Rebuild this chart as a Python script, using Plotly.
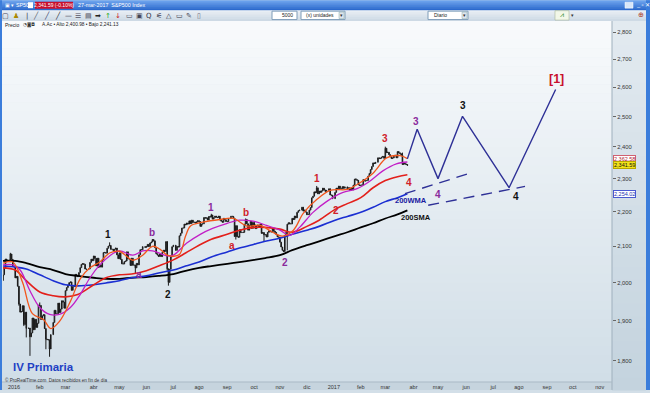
import math
import pandas as pd
import plotly.graph_objects as go

# ---------------- DATA (read / estimated from the reference) ----------------
holidays = ["2015-12-25", "2016-01-01", "2016-01-18", "2016-02-15", "2016-03-25",
            "2016-05-30", "2016-07-04", "2016-09-05", "2016-11-24", "2016-12-26",
            "2017-01-02", "2017-01-16", "2017-02-20"]

first_open = 2005.55
close_2015_12 = [2021.15, 2038.97, 2064.29, 2060.99, 2056.50, 2078.36, 2063.36, 2043.94]
close_2016_01 = [2012.66, 2016.71, 1990.26, 1943.09, 1922.03, 1923.67, 1938.68, 1890.28, 1921.84, 1880.33,
                 1881.33, 1859.33, 1868.99, 1906.90, 1877.08, 1903.63, 1882.95, 1893.36, 1940.24]
close_2016_02 = [1939.38, 1903.03, 1912.53, 1915.45, 1880.05, 1853.44, 1852.21, 1851.86, 1829.08, 1864.78,
                 1895.58, 1926.82, 1917.83, 1917.78, 1945.50, 1921.27, 1929.80, 1951.70, 1948.05, 1932.23]
close_2016_03 = [1978.35, 1986.45, 1993.40, 1999.99, 2001.76, 1979.26, 1989.26, 1989.57, 2022.19, 2019.64,
                 2015.93, 2027.22, 2040.59, 2049.58, 2051.60, 2049.80, 2036.71, 2035.94, 2037.05, 2055.01,
                 2063.95, 2059.74]
close_2016_04 = [2072.78, 2066.13, 2045.17, 2066.66, 2041.91, 2047.60, 2041.99, 2061.72, 2082.42, 2082.78,
                 2080.73, 2094.34, 2100.80, 2102.40, 2091.48, 2091.58, 2087.79, 2091.70, 2095.15, 2075.81,
                 2065.30]
close_2016_05 = [2081.43, 2063.37, 2051.12, 2050.63, 2057.14, 2058.69, 2084.39, 2064.46, 2064.11, 2046.61,
                 2066.66, 2047.21, 2047.63, 2040.04, 2052.32, 2048.04, 2076.06, 2090.54, 2090.10, 2099.06,
                 2096.95]
close_2016_06 = [2099.33, 2105.26, 2099.13, 2109.41, 2112.13, 2119.12, 2115.48, 2096.07, 2079.06, 2075.32,
                 2071.50, 2077.99, 2071.22, 2083.25, 2088.90, 2085.45, 2113.32, 2037.41, 2000.54, 2036.09,
                 2070.77, 2098.86]
close_2016_07 = [2102.95, 2088.55, 2099.73, 2097.90, 2129.90, 2137.16, 2152.14, 2152.43, 2163.75, 2161.74,
                 2166.89, 2163.78, 2173.02, 2165.17, 2175.03, 2168.48, 2169.18, 2166.58, 2170.06, 2173.60]
close_2016_08 = [2170.84, 2157.03, 2163.79, 2164.25, 2182.87, 2180.89, 2181.74, 2175.49, 2185.79, 2184.05,
                 2190.15, 2178.15, 2182.22, 2187.02, 2183.87, 2182.64, 2186.90, 2175.44, 2172.47, 2169.04,
                 2180.38, 2176.12, 2170.95]
close_2016_09 = [2170.86, 2179.98, 2186.48, 2186.16, 2181.30, 2127.81, 2159.04, 2127.02, 2125.77, 2147.26,
                 2139.16, 2139.12, 2139.76, 2163.12, 2177.18, 2164.69, 2146.10, 2159.93, 2171.37, 2151.13,
                 2168.27]
close_2016_10 = [2161.20, 2150.49, 2159.73, 2160.77, 2153.74, 2163.66, 2136.73, 2139.18, 2132.55, 2132.98,
                 2126.50, 2139.60, 2144.29, 2141.34, 2141.16, 2151.33, 2143.16, 2139.43, 2133.04, 2126.41,
                 2126.15]
close_2016_11 = [2111.72, 2097.94, 2088.66, 2085.18, 2131.52, 2139.56, 2163.26, 2167.48, 2164.45, 2164.20,
                 2180.39, 2176.94, 2187.12, 2181.90, 2198.18, 2202.94, 2204.72, 2213.35, 2201.72, 2204.66,
                 2198.81]
close_2016_12 = [2191.08, 2191.95, 2204.71, 2212.23, 2241.35, 2246.19, 2259.53, 2256.96, 2271.72, 2253.28,
                 2262.03, 2258.07, 2262.53, 2270.76, 2265.18, 2260.96, 2263.79, 2268.88, 2249.92, 2249.26,
                 2238.83]
close_2017_01 = [2257.83, 2270.75, 2269.00, 2276.98, 2268.90, 2268.90, 2275.32, 2270.44, 2274.64, 2267.89,
                 2271.89, 2263.69, 2271.31, 2265.20, 2280.07, 2298.37, 2296.68, 2294.69, 2280.90, 2278.87]
close_2017_02 = [2279.55, 2280.85, 2297.42, 2292.56, 2293.08, 2294.67, 2307.87, 2316.10, 2328.25, 2337.58,
                 2349.25, 2347.22, 2351.16, 2365.38, 2362.82, 2363.81, 2367.34, 2369.75, 2363.64]
close_2017_03 = [2395.96, 2381.92, 2383.12, 2375.31, 2368.39, 2362.98, 2364.87, 2372.60, 2373.47, 2365.45,
                 2385.26, 2381.38, 2378.25, 2373.47, 2344.02, 2348.45, 2345.96, 2343.98, 2341.59]

wick_low = {"2016-01-07": 1938.8, "2016-01-13": 1886.4, "2016-01-15": 1857.8, "2016-01-20": 1812.3,
            "2016-02-08": 1828.5, "2016-02-11": 1810.1, "2016-03-08": 1979.3, "2016-04-07": 2039.7,
            "2016-05-19": 2025.9, "2016-06-24": 2032.6, "2016-06-27": 1991.7, "2016-09-09": 2127.8,
            "2016-09-12": 2119.1, "2016-10-13": 2114.7, "2016-11-04": 2083.8, "2016-11-09": 2088.6}
wick_high = {"2015-12-29": 2081.6, "2016-02-01": 1947.2, "2016-04-20": 2111.1, "2016-06-08": 2120.6,
             "2016-08-15": 2193.8, "2016-09-22": 2180.0, "2016-11-23": 2204.8, "2016-12-13": 2277.5,
             "2017-01-26": 2301.0, "2017-03-01": 2401.0, "2017-03-21": 2381.9}

# moving averages
slow_dates = ["2015-12-21", "2016-01-04", "2016-01-15", "2016-02-01", "2016-02-16", "2016-03-01",
              "2016-03-15", "2016-04-01", "2016-04-15", "2016-05-02", "2016-05-16", "2016-06-01",
              "2016-06-15", "2016-07-01", "2016-07-15", "2016-08-01", "2016-08-15", "2016-09-01",
              "2016-09-15", "2016-10-03", "2016-10-14", "2016-11-01", "2016-11-15", "2016-12-01",
              "2016-12-15", "2017-01-03", "2017-01-17", "2017-02-01", "2017-02-15", "2017-03-01",
              "2017-03-15", "2017-03-27"]
sma200 = [2059, 2059, 2053, 2042, 2034, 2023, 2018, 2013, 2010, 2010, 2013, 2015, 2018, 2023, 2032, 2040,
          2045, 2051, 2056, 2062, 2067, 2075, 2089, 2103, 2114, 2129, 2140, 2154, 2166, 2180, 2192, 2204]
wma200 = [2045, 2042, 2037, 2021, 2005, 1994, 1991, 1994, 1999, 2005, 2013, 2018, 2026, 2034, 2045, 2056,
          2070, 2084, 2095, 2106, 2114, 2123, 2134, 2146, 2157, 2175, 2186, 2198, 2213, 2230, 2242, 2254.02]
sma50 = [2040, 2034, 2005, 1975, 1965, 1962, 1968, 1994, 2013, 2021, 2023, 2032, 2045, 2062, 2081, 2103,
         2120, 2134, 2146, 2154, 2154, 2149, 2140, 2157, 2175, 2207, 2224, 2242, 2272, 2294, 2306, 2312]

fast_dates = ["2015-12-21", "2015-12-31", "2016-01-12", "2016-01-22", "2016-02-04", "2016-02-12",
              "2016-02-23", "2016-03-07", "2016-03-17", "2016-03-29", "2016-04-08", "2016-04-20",
              "2016-05-02", "2016-05-17", "2016-05-27", "2016-06-08", "2016-06-16", "2016-06-24",
              "2016-07-01", "2016-07-08", "2016-07-15", "2016-07-21", "2016-08-04", "2016-08-24",
              "2016-09-08", "2016-09-23", "2016-10-10", "2016-10-24", "2016-11-03", "2016-11-16",
              "2016-11-28", "2016-12-13", "2016-12-28", "2017-01-17", "2017-01-27", "2017-02-15",
              "2017-03-02", "2017-03-17", "2017-03-27"]
ma10 = [2053, 2056, 2000, 1918, 1903, 1880, 1898, 1950, 2010, 2040, 2056, 2081, 2086, 2061, 2075, 2100,
        2092, 2075, 2072, 2077, 2129, 2158, 2169, 2177, 2180, 2158, 2160, 2140, 2129, 2146, 2195, 2236,
        2264, 2267, 2282, 2317, 2365, 2372, 2362.58]

mid_dates = ["2015-12-21", "2015-12-31", "2016-01-08", "2016-01-20", "2016-02-01", "2016-02-11",
             "2016-02-23", "2016-03-07", "2016-03-17", "2016-03-29", "2016-04-08", "2016-04-20",
             "2016-05-02", "2016-05-17", "2016-05-27", "2016-06-08", "2016-06-24", "2016-07-01",
             "2016-07-18", "2016-08-02", "2016-08-16", "2016-09-01", "2016-09-15", "2016-09-30",
             "2016-10-17", "2016-11-01", "2016-11-11", "2016-11-23", "2016-12-08", "2016-12-23",
             "2017-01-11", "2017-01-27", "2017-02-10", "2017-02-27", "2017-03-14", "2017-03-27"]
ma20 = [2048, 2048, 2034, 1978, 1934, 1916, 1916, 1934, 1968, 2013, 2048, 2073, 2087, 2075, 2087, 2087,
        2073, 2075, 2109, 2134, 2151, 2166, 2175, 2172, 2160, 2146, 2131, 2154, 2198, 2230, 2257, 2269,
        2291, 2324, 2346, 2352]

# Elliott-wave projection
proj_dates = ["2017-03-27", "2017-04-06", "2017-05-01", "2017-05-29", "2017-07-20", "2017-09-12"]
proj_vals = [2362, 2458, 2300, 2501, 2272, 2593]
chan1_dates = ["2017-03-23", "2017-06-07"]
chan1_vals = [2254, 2318]
chan2_dates = ["2017-04-19", "2017-08-08"]
chan2_vals = [2219, 2276]

label_text = ["IV Primaria", "1", "2", "a", "b", "1", "a", "b", "2", "1", "2", "3", "4",
              "3", "4", "3", "4", "[1]", "200WMA", "200SMA"]
label_date = ["2016-02-04", "2016-04-19", "2016-06-27", "2016-05-24", "2016-06-08", "2016-08-15",
              "2016-09-07", "2016-09-22", "2016-11-07", "2016-12-13", "2017-01-04", "2017-03-01",
              "2017-03-28", "2017-04-05", "2017-05-01", "2017-05-29", "2017-07-28", "2017-09-13",
              "2017-03-30", "2017-04-05"]
label_price = [1785, 2134, 1968, 2023, 2140, 2213, 2103, 2198, 2056, 2300, 2204, 2426, 2288,
               2485, 2251, 2538, 2245, 2628, 2233, 2183]
label_kind = ["title", "black", "black", "purple", "purple", "purple", "red", "red", "purple", "red",
              "red", "red", "red", "purple", "purple", "black", "black", "big_red", "wma", "sma"]

tick_dates = ["2016-01-01", "2016-02-01", "2016-03-01", "2016-04-01", "2016-05-02", "2016-06-01",
              "2016-07-01", "2016-08-01", "2016-09-01", "2016-10-03", "2016-11-01", "2016-12-01",
              "2017-01-02", "2017-02-01", "2017-03-01", "2017-04-03", "2017-05-01", "2017-06-01",
              "2017-07-03", "2017-08-01", "2017-09-01", "2017-10-02", "2017-11-01"]
tick_labels = ["2016", "feb", "mar", "abr", "may", "jun", "jul", "ago", "sep", "oct", "nov", "dic",
               "2017", "feb", "mar", "abr", "may", "jun", "jul", "ago", "sep", "oct", "nov"]
price_ticks = [1800, 1900, 2000, 2100, 2200, 2300, 2400, 2500, 2600, 2700, 2800]
axis_marks = [(2362.58, "mark_red"), (2341.59, "mark_yellow"), (2254.02, "mark_blue")]
y_low, y_high = 1749.7, 2816.4
x_start, x_end = "2015-12-21", "2017-11-15"

# ---------------- BUILD CANDLES ----------------
months = [("2015-12-21", "2015-12-31", close_2015_12), ("2016-01-01", "2016-01-31", close_2016_01),
          ("2016-02-01", "2016-02-29", close_2016_02), ("2016-03-01", "2016-03-31", close_2016_03),
          ("2016-04-01", "2016-04-30", close_2016_04), ("2016-05-01", "2016-05-31", close_2016_05),
          ("2016-06-01", "2016-06-30", close_2016_06), ("2016-07-01", "2016-07-31", close_2016_07),
          ("2016-08-01", "2016-08-31", close_2016_08), ("2016-09-01", "2016-09-30", close_2016_09),
          ("2016-10-01", "2016-10-31", close_2016_10), ("2016-11-01", "2016-11-30", close_2016_11),
          ("2016-12-01", "2016-12-31", close_2016_12), ("2017-01-01", "2017-01-31", close_2017_01),
          ("2017-02-01", "2017-02-28", close_2017_02), ("2017-03-01", "2017-03-27", close_2017_03)]
dates, closes = [], []
for s, e, vals in months:
    days = [d.strftime("%Y-%m-%d") for d in pd.bdate_range(s, e)]
    days = [d for d in days if d not in holidays]
    n = min(len(days), len(vals))
    dates += days[:n]
    closes += vals[:n]
opens = [first_open] + closes[:-1]
highs = [max(o, c, wick_high.get(d, 0)) for d, o, c in zip(dates, opens, closes)]
lows = [min(o, c, wick_low.get(d, 1e9)) for d, o, c in zip(dates, opens, closes)]

# ---------------- FIGURE ----------------
W, H = 650, 393
L, R, T, B = 3, 38, 28, 8
PW, PH = W - L - R, H - T - B
FONT = "Liberation Sans, Arial, sans-serif"


def px(xp):
    return (xp - L) / PW


def py(yp):
    return (H - B - yp) / PH


shapes = []


def rect(x0, y0, x1, y1, color, line=None, layer="below"):
    shapes.append(dict(type="rect", xref="paper", yref="paper", x0=px(x0), x1=px(x1),
                       y0=py(y1), y1=py(y0), fillcolor=color,
                       line=line if line else dict(width=0), layer=layer))


def gradient(x0, y0, x1, y1, c0, c1, steps):
    h = (y1 - y0) / steps
    for i in range(steps):
        t = i / (steps - 1)
        c = tuple(int(round(a + (b - a) * t)) for a, b in zip(c0, c1))
        rect(x0, y0 + i * h, x1, y0 + (i + 1) * h + 0.6, "rgb(%d,%d,%d)" % c)


# chrome
gradient(0, 0, 650, 10, (104, 160, 236), (44, 106, 206), 5)          # title bar
gradient(0, 10, 650, 21, (232, 238, 244), (206, 218, 229), 5)         # toolbar
gradient(2, 21, 612, 385, (248, 250, 252), (209, 222, 231), 40)      # chart area
gradient(612, 21, 646, 393, (226, 234, 240), (196, 211, 222), 30)    # price panel
rect(2, 385, 612, 393, "#c6d4de")                                       # date band
shapes.append(dict(type="line", xref="paper", yref="paper", x0=px(612), x1=px(612),
                   y0=py(393), y1=py(21), line=dict(color="#9fb0bd", width=1), layer="below"))
shapes.append(dict(type="line", xref="paper", yref="paper", x0=px(2), x1=px(612),
                   y0=py(385), y1=py(385), line=dict(color="#a9b9c5", width=1), layer="below"))
rect(0, 0, 2, 393, "#3b7ddb")
rect(646, 0, 650, 393, "#3b7ddb")
rect(35, 1.5, 73, 8.5, "#c8102e")
rect(272, 11, 297, 19.5, "#ffffff", dict(color="#7f9db9", width=1))
rect(301, 11, 345, 19.5, "#ffffff", dict(color="#7f9db9", width=1))
rect(428, 11, 468, 19.5, "#ffffff", dict(color="#7f9db9", width=1))
rect(339, 12, 344, 18.5, "#dfe6ee", dict(color="#8aa", width=0.5))
rect(462, 12, 467, 18.5, "#dfe6ee", dict(color="#8aa", width=0.5))
rect(555, 10.5, 569, 20, "#f2f7e8", dict(color="#99aa88", width=0.5))
rect(625, 2, 633, 8, "#d8e6f8", dict(color="#ffffff", width=0.5))
rect(28, 2, 33, 8, "#ffffff")

fig = go.Figure()
fig.add_trace(go.Candlestick(
    x=dates, open=opens, high=highs, low=lows, close=closes,
    increasing=dict(line=dict(color="#1a1a1a", width=1), fillcolor="#ffffff"),
    decreasing=dict(line=dict(color="#1a1a1a", width=1), fillcolor="#1a1a1a"),
    whiskerwidth=0, hoverinfo="skip", showlegend=False))

line_specs = [(slow_dates, sma200, "#000000", 1.8), (slow_dates, wma200, "#1b2fd2", 1.6),
              (slow_dates, sma50, "#e3201b", 1.6), (mid_dates, ma20, "#c21fc6", 1.3),
              (fast_dates, ma10, "#f2561d", 1.3)]
for xs, ys, col, wd in line_specs:
    fig.add_trace(go.Scatter(x=xs, y=ys, mode="lines", line=dict(color=col, width=wd, shape="spline",
                                                                  smoothing=1.0),
                             hoverinfo="skip", showlegend=False))

fig.add_trace(go.Scatter(x=proj_dates, y=proj_vals, mode="lines",
                         line=dict(color="#2e3096", width=1.4), hoverinfo="skip", showlegend=False))
for xs, ys in [(chan1_dates, chan1_vals), (chan2_dates, chan2_vals)]:
    fig.add_trace(go.Scatter(x=xs, y=ys, mode="lines",
                             line=dict(color="#2e3096", width=1.4, dash="11px,7px"),
                             hoverinfo="skip", showlegend=False))

styles = {"title": ("#1f3fc4", 11.5), "black": ("#111111", 10), "purple": ("#8a2a9c", 10),
          "red": ("#d0212a", 10), "big_red": ("#c8102e", 12.5), "wma": ("#1a1aa0", 7.5),
          "sma": ("#111111", 7.5)}
annotations = []
for t, d, p, k in zip(label_text, label_date, label_price, label_kind):
    col, sz = styles[k]
    annotations.append(dict(x=d, y=math.log10(p), xref="x", yref="y", text="<b>%s</b>" % t,
                            showarrow=False, font=dict(family=FONT, size=sz, color=col),
                            xanchor="center", yanchor="middle"))

mark_styles = {"mark_red": ("#ffffff", "#d06070", "#b02030"),
               "mark_yellow": ("#f2e21a", "#b8a800", "#111111"),
               "mark_blue": ("#ffffff", "#4a5ad0", "#2030b0")}
for p, k in axis_marks:
    bg, bd, fc = mark_styles[k]
    annotations.append(dict(x=1.0, y=math.log10(p), xref="paper", yref="y", text=f"{p:,.2f}",
                            showarrow=False, xanchor="left", yanchor="middle", xshift=1,
                            bgcolor=bg, bordercolor=bd, borderwidth=1, borderpad=0,
                            font=dict(family=FONT, size=5.5, color=fc)))


def text(xp, yp, s, size=5.5, color="#222222", anchor="left", bold=False, family=FONT):
    annotations.append(dict(x=px(xp), y=py(yp), xref="paper", yref="paper",
                            text=("<b>%s</b>" % s) if bold else s, showarrow=False,
                            xanchor=anchor, yanchor="middle",
                            font=dict(family=family, size=size, color=color)))


# header texts
text(3, 5, "▣ ▾ SP500", 5.3, "#ffffff")
text(54, 5, "2,341.59 (-0.10%)", 5.0, "#ffffff", "center")
text(76, 5, "27-mar-2017  S&P500 Index", 5.3, "#ffffff")
text(634, 5, "_ ▫ ✕", 5.5, "#ffffff")
icons = [(5, "▢", "#445"), (16, "♟", "#aa8800"), (27, "|", "#334"), (36, "╱", "#556"),
         (47, "╱", "#336"), (58, "╱", "#223"), (68, "—", "#334"), (78, "☰", "#556"),
         (88, "▤", "#556"), (98, "➡", "#222"), (108, "↑", "#22aa22"), (118, "↓", "#cc2222"),
         (129, "▭", "#445"), (139, "▣", "#445"), (149, "Q", "#334"), (159, "⚟", "#445"),
         (169, "△", "#334"), (179, "▭", "#334"), (189, "✎", "#445"), (199, "▯", "#667")]
for xp, g, c in icons:
    text(xp, 15.5, g, 7, c, "center", family="DejaVu Sans")
text(295, 15.3, "5000", 5, "#222222", "right")
text(304, 15.3, "(x) unidades", 5, "#222222")
text(341.5, 15.3, "▾", 5, "#333333", "center")
text(432, 15.3, "Diario", 5, "#222222")
text(464.5, 15.3, "▾", 5, "#333333", "center")
text(562, 15.3, "⩘", 7, "#2a8a2a", "center", family="DejaVu Sans")
text(572, 15.3, "▾", 5, "#333333", "center")
text(641, 15.3, "⊕", 7, "#aa3322", "center", family="DejaVu Sans")
text(3, 24.8, "Precio", 5, "#222222")
text(21, 24.8, "◔◙◘", 4.5, "#333333", family="DejaVu Sans")
text(40, 24.8, "A.Ac • Alto 2,400.98 • Bajo 2,241.13", 4.8, "#222222")
text(3, 382.5, "© ProRealTime.com  Datos recibidos en fin de día", 4.6, "#333333")

fig.update_layout(
    width=W, height=H, autosize=False,
    margin=dict(l=L, r=R, t=T, b=B, pad=0),
    paper_bgcolor="#d3dfe8", plot_bgcolor="rgba(0,0,0,0)",
    shapes=shapes, annotations=annotations, showlegend=False,
    font=dict(family=FONT, size=6, color="#333333"),
    xaxis=dict(type="date", range=[x_start, x_end], rangebreaks=[dict(bounds=["sat", "mon"])],
               rangeslider=dict(visible=False), tickmode="array", tickvals=tick_dates,
               ticktext=tick_labels, showgrid=False, zeroline=False, showline=False, ticks="",
               tickfont=dict(family=FONT, size=5.5, color="#333333"), fixedrange=True),
    yaxis=dict(type="log", range=[math.log10(y_low), math.log10(y_high)], side="right",
               tickmode="array", tickvals=price_ticks, ticktext=[f"{v:,}" for v in price_ticks],
               showgrid=False, zeroline=False, showline=False, ticks="outside", ticklen=3,
               tickcolor="#666666", tickfont=dict(family=FONT, size=5.8, color="#333333"),
               fixedrange=True),
)

fig.write_html("out.html", config={"displayModeBar": False},
               post_script="document.body.style.margin='0';document.body.style.overflow='hidden';")
